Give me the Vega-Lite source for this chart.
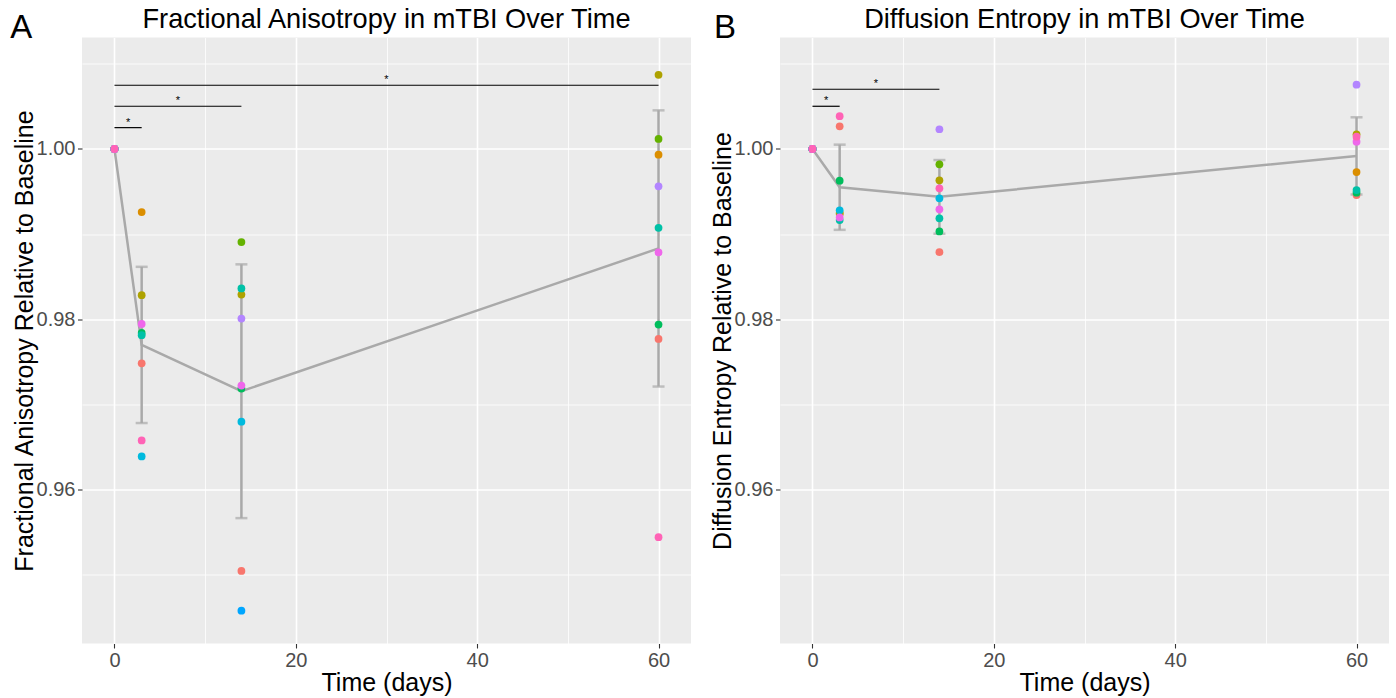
{
  "$schema": "https://vega.github.io/schema/vega-lite/v6.json",
  "background": "white",
  "autosize": {"type": "pad"},
  "padding": {"left": 10, "top": 5.5, "right": 7, "bottom": 4},
  "config": {
    "font": "Liberation Sans",
    "view": {"fill": "#EBEBEB", "stroke": null},
    "axis": {
      "domain": false,
      "gridColor": "#FFFFFF",
      "tickColor": "#333333",
      "tickSize": 4.5,
      "tickWidth": 1.1,
      "labelColor": "#4D4D4D",
      "labelFont": "Liberation Sans",
      "labelFontSize": 20,
      "labelPadding": 2.5,
      "titleColor": "#000000",
      "titleFont": "Liberation Sans",
      "titleFontSize": 25,
      "titleFontWeight": "normal"
    },
    "title": {"font": "Liberation Sans", "fontSize": 27.2, "fontWeight": "normal", "frame": "group", "anchor": "middle", "baseline": "alphabetic", "offset": -23, "color": "#000000"},
    "concat": {"spacing": 19}
  },
  "datasets": {
    "fa": [
      {"time": 0, "subject": "S01", "value": 1.0},
      {"time": 0, "subject": "S02", "value": 1.0},
      {"time": 0, "subject": "S03", "value": 1.0},
      {"time": 0, "subject": "S04", "value": 1.0},
      {"time": 0, "subject": "S05", "value": 1.0},
      {"time": 0, "subject": "S06", "value": 1.0},
      {"time": 0, "subject": "S07", "value": 1.0},
      {"time": 0, "subject": "S08", "value": 1.0},
      {"time": 0, "subject": "S09", "value": 1.0},
      {"time": 0, "subject": "S10", "value": 1.0},
      {"time": 0, "subject": "S11", "value": 1.0},
      {"time": 3, "subject": "S01", "value": 0.97482},
      {"time": 3, "subject": "S02", "value": 0.99259},
      {"time": 3, "subject": "S03", "value": 0.98282},
      {"time": 3, "subject": "S05", "value": 0.97839},
      {"time": 3, "subject": "S06", "value": 0.97812},
      {"time": 3, "subject": "S07", "value": 0.96388},
      {"time": 3, "subject": "S10", "value": 0.97945},
      {"time": 3, "subject": "S11", "value": 0.96576},
      {"time": 14, "subject": "S01", "value": 0.95043},
      {"time": 14, "subject": "S03", "value": 0.9829},
      {"time": 14, "subject": "S04", "value": 0.98906},
      {"time": 14, "subject": "S05", "value": 0.97185},
      {"time": 14, "subject": "S06", "value": 0.98361},
      {"time": 14, "subject": "S07", "value": 0.96796},
      {"time": 14, "subject": "S08", "value": 0.94576},
      {"time": 14, "subject": "S09", "value": 0.98008},
      {"time": 14, "subject": "S10", "value": 0.9722},
      {"time": 60, "subject": "S01", "value": 0.97768},
      {"time": 60, "subject": "S02", "value": 0.99933},
      {"time": 60, "subject": "S03", "value": 1.00871},
      {"time": 60, "subject": "S04", "value": 1.00118},
      {"time": 60, "subject": "S05", "value": 0.97937},
      {"time": 60, "subject": "S06", "value": 0.99074},
      {"time": 60, "subject": "S09", "value": 0.99561},
      {"time": 60, "subject": "S10", "value": 0.98784},
      {"time": 60, "subject": "S11", "value": 0.95439}
    ],
    "de": [
      {"time": 0, "subject": "S01", "value": 1.0},
      {"time": 0, "subject": "S02", "value": 1.0},
      {"time": 0, "subject": "S03", "value": 1.0},
      {"time": 0, "subject": "S04", "value": 1.0},
      {"time": 0, "subject": "S05", "value": 1.0},
      {"time": 0, "subject": "S06", "value": 1.0},
      {"time": 0, "subject": "S07", "value": 1.0},
      {"time": 0, "subject": "S08", "value": 1.0},
      {"time": 0, "subject": "S09", "value": 1.0},
      {"time": 0, "subject": "S10", "value": 1.0},
      {"time": 0, "subject": "S11", "value": 1.0},
      {"time": 3, "subject": "S01", "value": 1.00267},
      {"time": 3, "subject": "S02", "value": 0.9925},
      {"time": 3, "subject": "S03", "value": 0.99235},
      {"time": 3, "subject": "S05", "value": 0.99627},
      {"time": 3, "subject": "S06", "value": 0.99165},
      {"time": 3, "subject": "S07", "value": 0.99279},
      {"time": 3, "subject": "S10", "value": 0.99196},
      {"time": 3, "subject": "S11", "value": 1.00385},
      {"time": 14, "subject": "S01", "value": 0.98788},
      {"time": 14, "subject": "S03", "value": 0.99632},
      {"time": 14, "subject": "S04", "value": 0.9982},
      {"time": 14, "subject": "S05", "value": 0.99032},
      {"time": 14, "subject": "S06", "value": 0.99185},
      {"time": 14, "subject": "S07", "value": 0.9942},
      {"time": 14, "subject": "S09", "value": 1.00232},
      {"time": 14, "subject": "S10", "value": 0.99291},
      {"time": 14, "subject": "S11", "value": 0.99538},
      {"time": 60, "subject": "S01", "value": 0.99459},
      {"time": 60, "subject": "S02", "value": 0.99729},
      {"time": 60, "subject": "S03", "value": 1.00173},
      {"time": 60, "subject": "S05", "value": 0.99486},
      {"time": 60, "subject": "S06", "value": 0.99518},
      {"time": 60, "subject": "S09", "value": 1.00756},
      {"time": 60, "subject": "S10", "value": 1.00086},
      {"time": 60, "subject": "S11", "value": 1.00145}
    ],
    "faSig": [
      {"time": 0, "time2": 60, "mid": 30, "value": 1.00749, "label": "*"},
      {"time": 0, "time2": 14, "mid": 7, "value": 1.00502, "label": "*"},
      {"time": 0, "time2": 3, "mid": 1.5, "value": 1.00251, "label": "*"}
    ],
    "deSig": [
      {"time": 0, "time2": 14, "mid": 7, "value": 1.00702, "label": "*"},
      {"time": 0, "time2": 3, "mid": 1.5, "value": 1.00502, "label": "*"}
    ]
  },
  "hconcat": [
    {
      "width": 609,
      "height": 606,
      "title": "Fractional Anisotropy in mTBI Over Time",
      "data": {"name": "fa"},
      "layer": [
        {
          "mark": {"type": "line", "color": "#A9A9A9", "strokeWidth": 2.5},
          "encoding": {
            "x": {"field": "time", "type": "quantitative", "scale": {"domain": [-3.58, 63.58], "nice": false, "zero": false}, "axis": {"title": "Time (days)", "values": [0, 10, 20, 30, 40, 50, 60], "labelExpr": "datum.value % 20 == 0 ? datum.label : ''", "tickColor": {"condition": {"test": "datum.value % 20 != 0", "value": "transparent"}, "value": "#333333"}, "gridWidth": {"condition": {"test": "datum.value % 20 == 0", "value": 1.6}, "value": 0.8}, "titlePadding": 0}},
            "y": {"aggregate": "mean", "field": "value", "type": "quantitative", "scale": {"domain": [0.9419, 1.0131], "nice": false, "zero": false}, "axis": {"title": "Fractional Anisotropy Relative to Baseline", "values": [0.95, 0.96, 0.97, 0.98, 0.99, 1.0, 1.01], "format": ".2f", "labelExpr": "round(datum.value * 100) % 2 == 0 ? datum.label : ''", "tickColor": {"condition": {"test": "round(datum.value * 100) % 2 != 0", "value": "transparent"}, "value": "#333333"}, "gridWidth": {"condition": {"test": "round(datum.value * 100) % 2 == 0", "value": 1.6}, "value": 0.8}, "titleBaseline": "alphabetic", "titlePadding": 3.3}}
          }
        },
        {
          "transform": [{"filter": "datum.time > 0"}],
          "mark": {"type": "errorbar", "extent": "stdev", "orient": "vertical", "color": "#A9A9A9", "thickness": 2.5, "size": 12, "ticks": true},
          "encoding": {
            "x": {"field": "time", "type": "quantitative", "scale": {"domain": [-3.58, 63.58], "nice": false, "zero": false}, "title": "Time (days)"},
            "y": {"field": "value", "type": "quantitative", "scale": {"domain": [0.9419, 1.0131], "nice": false, "zero": false}, "title": "Fractional Anisotropy Relative to Baseline"}
          }
        },
        {
          "mark": {"type": "circle", "size": 60, "opacity": 1},
          "encoding": {
            "x": {"field": "time", "type": "quantitative", "scale": {"domain": [-3.58, 63.58], "nice": false, "zero": false}, "title": "Time (days)"},
            "y": {"field": "value", "type": "quantitative", "scale": {"domain": [0.9419, 1.0131], "nice": false, "zero": false}, "title": "Fractional Anisotropy Relative to Baseline"},
            "color": {"field": "subject", "type": "nominal", "scale": {"domain": ["S01", "S02", "S03", "S04", "S05", "S06", "S07", "S08", "S09", "S10", "S11"], "range": ["#F8766D", "#DB8E00", "#AEA200", "#64B200", "#00BD5C", "#00C1A7", "#00BADE", "#00A6FF", "#B385FF", "#EF67EB", "#FF63B6"]}, "legend": null}
          }
        },
        {
          "data": {"name": "faSig"},
          "mark": {"type": "rule", "color": "#000000", "strokeWidth": 1.2},
          "encoding": {
            "x": {"field": "time", "type": "quantitative", "scale": {"domain": [-3.58, 63.58], "nice": false, "zero": false}, "title": "Time (days)"},
            "x2": {"field": "time2"},
            "y": {"field": "value", "type": "quantitative", "scale": {"domain": [0.9419, 1.0131], "nice": false, "zero": false}, "title": "Fractional Anisotropy Relative to Baseline"}
          }
        },
        {
          "data": {"name": "faSig"},
          "mark": {"type": "text", "fontSize": 11, "baseline": "alphabetic", "align": "center", "dy": -2, "color": "#000000"},
          "encoding": {
            "x": {"field": "mid", "type": "quantitative", "scale": {"domain": [-3.58, 63.58], "nice": false, "zero": false}, "title": "Time (days)"},
            "y": {"field": "value", "type": "quantitative", "scale": {"domain": [0.9419, 1.0131], "nice": false, "zero": false}, "title": "Fractional Anisotropy Relative to Baseline"},
            "text": {"field": "label"}
          }
        },
        {
          "data": {"values": [{"tag": "A"}]},
          "mark": {"type": "text", "fontSize": 33, "align": "left", "baseline": "alphabetic", "color": "#000000", "clip": false},
          "encoding": {
            "x": {"datum": -11.49, "type": "quantitative", "scale": {"domain": [-3.58, 63.58], "nice": false, "zero": false}, "title": "Time (days)"},
            "y": {"datum": 1.0131, "type": "quantitative", "scale": {"domain": [0.9419, 1.0131], "nice": false, "zero": false}, "title": "Fractional Anisotropy Relative to Baseline"},
            "text": {"field": "tag"}
          }
        }
      ]
    },
    {
      "width": 609,
      "height": 606,
      "title": "Diffusion Entropy in mTBI Over Time",
      "data": {"name": "de"},
      "layer": [
        {
          "mark": {"type": "line", "color": "#A9A9A9", "strokeWidth": 2.5},
          "encoding": {
            "x": {"field": "time", "type": "quantitative", "scale": {"domain": [-3.58, 63.58], "nice": false, "zero": false}, "axis": {"title": "Time (days)", "values": [0, 10, 20, 30, 40, 50, 60], "labelExpr": "datum.value % 20 == 0 ? datum.label : ''", "tickColor": {"condition": {"test": "datum.value % 20 != 0", "value": "transparent"}, "value": "#333333"}, "gridWidth": {"condition": {"test": "datum.value % 20 == 0", "value": 1.6}, "value": 0.8}, "titlePadding": 0}},
            "y": {"aggregate": "mean", "field": "value", "type": "quantitative", "scale": {"domain": [0.9419, 1.0131], "nice": false, "zero": false}, "axis": {"title": "Diffusion Entropy Relative to Baseline", "values": [0.95, 0.96, 0.97, 0.98, 0.99, 1.0, 1.01], "format": ".2f", "labelExpr": "round(datum.value * 100) % 2 == 0 ? datum.label : ''", "tickColor": {"condition": {"test": "round(datum.value * 100) % 2 != 0", "value": "transparent"}, "value": "#333333"}, "gridWidth": {"condition": {"test": "round(datum.value * 100) % 2 == 0", "value": 1.6}, "value": 0.8}, "titleBaseline": "alphabetic", "titlePadding": 3.3}}
          }
        },
        {
          "transform": [{"filter": "datum.time > 0"}],
          "mark": {"type": "errorbar", "extent": "stdev", "orient": "vertical", "color": "#A9A9A9", "thickness": 2.5, "size": 12, "ticks": true},
          "encoding": {
            "x": {"field": "time", "type": "quantitative", "scale": {"domain": [-3.58, 63.58], "nice": false, "zero": false}, "title": "Time (days)"},
            "y": {"field": "value", "type": "quantitative", "scale": {"domain": [0.9419, 1.0131], "nice": false, "zero": false}, "title": "Diffusion Entropy Relative to Baseline"}
          }
        },
        {
          "mark": {"type": "circle", "size": 60, "opacity": 1},
          "encoding": {
            "x": {"field": "time", "type": "quantitative", "scale": {"domain": [-3.58, 63.58], "nice": false, "zero": false}, "title": "Time (days)"},
            "y": {"field": "value", "type": "quantitative", "scale": {"domain": [0.9419, 1.0131], "nice": false, "zero": false}, "title": "Diffusion Entropy Relative to Baseline"},
            "color": {"field": "subject", "type": "nominal", "scale": {"domain": ["S01", "S02", "S03", "S04", "S05", "S06", "S07", "S08", "S09", "S10", "S11"], "range": ["#F8766D", "#DB8E00", "#AEA200", "#64B200", "#00BD5C", "#00C1A7", "#00BADE", "#00A6FF", "#B385FF", "#EF67EB", "#FF63B6"]}, "legend": null}
          }
        },
        {
          "data": {"name": "deSig"},
          "mark": {"type": "rule", "color": "#000000", "strokeWidth": 1.2},
          "encoding": {
            "x": {"field": "time", "type": "quantitative", "scale": {"domain": [-3.58, 63.58], "nice": false, "zero": false}, "title": "Time (days)"},
            "x2": {"field": "time2"},
            "y": {"field": "value", "type": "quantitative", "scale": {"domain": [0.9419, 1.0131], "nice": false, "zero": false}, "title": "Diffusion Entropy Relative to Baseline"}
          }
        },
        {
          "data": {"name": "deSig"},
          "mark": {"type": "text", "fontSize": 11, "baseline": "alphabetic", "align": "center", "dy": -2, "color": "#000000"},
          "encoding": {
            "x": {"field": "mid", "type": "quantitative", "scale": {"domain": [-3.58, 63.58], "nice": false, "zero": false}, "title": "Time (days)"},
            "y": {"field": "value", "type": "quantitative", "scale": {"domain": [0.9419, 1.0131], "nice": false, "zero": false}, "title": "Diffusion Entropy Relative to Baseline"},
            "text": {"field": "label"}
          }
        },
        {
          "data": {"values": [{"tag": "B"}]},
          "mark": {"type": "text", "fontSize": 33, "align": "left", "baseline": "alphabetic", "color": "#000000", "clip": false},
          "encoding": {
            "x": {"datum": -10.86, "type": "quantitative", "scale": {"domain": [-3.58, 63.58], "nice": false, "zero": false}, "title": "Time (days)"},
            "y": {"datum": 1.0131, "type": "quantitative", "scale": {"domain": [0.9419, 1.0131], "nice": false, "zero": false}, "title": "Diffusion Entropy Relative to Baseline"},
            "text": {"field": "tag"}
          }
        }
      ]
    }
  ]
}
